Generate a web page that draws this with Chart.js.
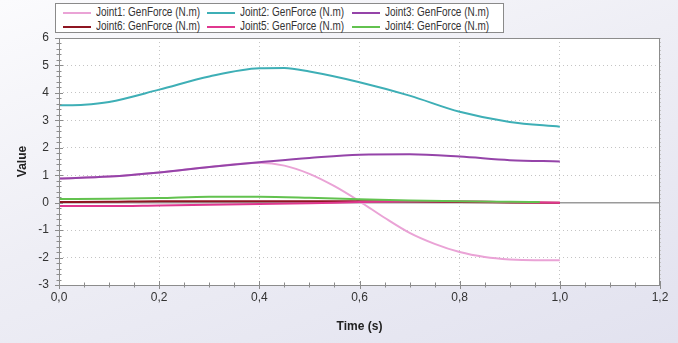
<!DOCTYPE html>
<html lang="en">
<head>
<meta charset="UTF-8">
<title>Joint GenForce</title>
<script src="https://cdn.jsdelivr.net/npm/chart.js"></script>
<style>
  html, body { margin: 0; padding: 0; }
  body {
    width: 678px; height: 343px; overflow: hidden; position: relative;
    background: linear-gradient(160deg, #fbfbfd 0%, #eeeef5 45%, #e2e2ef 100%);
    font-family: "Liberation Sans", Arial, sans-serif;
  }
  #wrap { position: absolute; left: 0; top: 0; width: 678px; height: 343px; }
  #grafico { display: block; }
  .legend {
    position: absolute; left: 55px; top: 3px; width: 449px; height: 30px;
    border: 1px solid #8a8a8a; background: #fff; box-sizing: border-box;
    font-family: "Liberation Sans", Arial, sans-serif;
    font-size: 12px; color: #333;
  }
  .item { position: absolute; height: 14px; line-height: 14px; white-space: nowrap; }
  .item i { display: inline-block; width: 28px; height: 2px; vertical-align: middle; margin-right: 5px; }
  .item span { display: inline-block; transform: scaleX(0.83); transform-origin: left center; }
</style>
</head>
<body>
<div id="wrap"><canvas id="grafico" width="678" height="343"></canvas></div>
<div class="legend" id="legenda"></div>
<script>
  // tempo (s) e valores (N.m)
  const tempo1 = [0, 0.1, 0.2, 0.3, 0.4, 0.45, 0.5, 0.55, 0.6, 0.65, 0.7, 0.75, 0.8, 0.85, 0.9, 0.95, 1.0];
  const joint1 = [0.88, 0.95, 1.1, 1.3, 1.45, 1.35, 1.05, 0.6, 0.05, -0.55, -1.1, -1.5, -1.8, -1.98, -2.07, -2.1, -2.1];

  const tempo2 = [0, 0.05, 0.1, 0.2, 0.3, 0.4, 0.45, 0.5, 0.6, 0.7, 0.8, 0.9, 1.0];
  const joint2 = [3.55, 3.57, 3.67, 4.12, 4.6, 4.9, 4.91, 4.78, 4.39, 3.9, 3.31, 2.94, 2.77];

  const tempo = [0, 0.1, 0.2, 0.3, 0.4, 0.5, 0.6, 0.7, 0.8, 0.9, 1.0];
  const joint3 = [0.88, 0.95, 1.1, 1.3, 1.47, 1.63, 1.75, 1.76, 1.68, 1.55, 1.5];
  const joint6 = [0.02, 0.03, 0.05, 0.05, 0.05, 0.05, 0.05, 0.04, 0.02, 0.01, 0.0];
  const joint5 = [-0.12, -0.12, -0.1, -0.08, -0.05, -0.02, 0.02, 0.05, 0.05, 0.02, 0.0];

  const tempo4 = [0, 0.1, 0.2, 0.3, 0.4, 0.5, 0.6, 0.7, 0.8, 0.9, 0.96];
  const joint4 = [0.13, 0.14, 0.17, 0.22, 0.22, 0.18, 0.12, 0.08, 0.05, 0.03, 0.02];

  const nomes = ['Joint1: GenForce (N.m)', 'Joint2: GenForce (N.m)', 'Joint3: GenForce (N.m)',
                 'Joint6: GenForce (N.m)', 'Joint5: GenForce (N.m)', 'Joint4: GenForce (N.m)'];
  const cores = ['#eaa3d6', '#3eafb6', '#9544a9', '#8e1521', '#e0378f', '#62c24f'];

  const xTicks = [0, 0.2, 0.4, 0.6, 0.8, 1.0, 1.2];
  const yTicks = [-3, -2, -1, 0, 1, 2, 3, 4, 5, 6];

  function pontos(xs, ys) { return xs.map((x, i) => ({ x: x, y: ys[i] })); }

  const series = [
    pontos(tempo1, joint1), pontos(tempo2, joint2), pontos(tempo, joint3),
    pontos(tempo, joint6), pontos(tempo, joint5), pontos(tempo4, joint4)
  ];

  // legenda em html (3 colunas)
  const leg = document.getElementById('legenda');
  const colX = [7, 151, 296];
  nomes.forEach((n, i) => {
    const d = document.createElement('div');
    d.className = 'item';
    d.style.left = colX[i % 3] + 'px';
    d.style.top = (i < 3 ? 1 : 15) + 'px';
    d.innerHTML = '<i style="background:' + cores[i] + '"></i><span>' + n + '</span>';
    leg.appendChild(d);
  });

  // fundo branco, borda e ticks menores
  const plotFrame = {
    id: 'plotFrame',
    beforeDraw(chart) {
      const a = chart.chartArea, c = chart.ctx;
      c.save();
      c.fillStyle = '#fff';
      c.fillRect(a.left, a.top, a.right - a.left, a.bottom - a.top);
      c.restore();
    },
    afterDatasetsDraw(chart) {
      const a = chart.chartArea, c = chart.ctx;
      const xs = chart.scales.x, ys = chart.scales.y;
      c.save();
      c.strokeStyle = '#8c8c8c';
      c.lineWidth = 1;
      c.strokeRect(a.left + 0.5, a.top + 0.5, a.right - a.left - 1, a.bottom - a.top);
      c.beginPath();
      for (let k = 0; k <= 24; k++) {
        const px = Math.round(xs.getPixelForValue(k * 0.05)) + 0.5;
        const len = k % 4 === 0 ? 4 : 2.5;
        c.moveTo(px, a.bottom - len); c.lineTo(px, a.bottom + len);
      }
      for (let k = 0; k <= 45; k++) {
        const py = Math.round(ys.getPixelForValue(-3 + k * 0.2)) + 0.5;
        const len = k % 5 === 0 ? 4 : 2.5;
        c.moveTo(a.left - len, py); c.lineTo(a.left + len, py);
      }
      c.stroke();
      c.restore();
    }
  };

  const ctx = document.getElementById('grafico');
  new Chart(ctx, {
    type: 'line',
    data: {
      datasets: series.map((s, i) => ({
        label: nomes[i],
        data: s,
        borderColor: cores[i],
        backgroundColor: cores[i],
        borderWidth: 2,
        pointRadius: 0,
        cubicInterpolationMode: 'monotone',
        order: i === 1 ? 0 : 6 - i
      }))
    },
    options: {
      responsive: false,
      animation: false,
      layout: { padding: { left: 10, top: 38, right: 18, bottom: 8 } },
      plugins: { legend: { display: false }, tooltip: { enabled: false } },
      scales: {
        x: {
          type: 'linear', min: 0, max: 1.2,
          afterBuildTicks: s => { s.ticks = xTicks.map(v => ({ value: v })); },
          afterFit: s => { s.height = 50; },
          ticks: {
            callback: v => v.toFixed(1).replace('.', ','),
            color: '#333', padding: 5, autoSkip: false, maxRotation: 0,
            font: { family: 'Liberation Sans', size: 12 }
          },
          grid: { color: '#c4c4c4', drawTicks: false },
          border: { display: false, dash: [1, 3] },
          title: {
            display: true, text: 'Time (s)', color: '#222',
            font: { family: 'Liberation Sans', size: 12, weight: 'bold' },
            padding: { top: 0, bottom: 1 }
          }
        },
        y: {
          min: -3, max: 6,
          afterBuildTicks: s => { s.ticks = yTicks.map(v => ({ value: v })); },
          afterFit: s => { s.width = 49; },
          ticks: {
            color: '#333', padding: 10, autoSkip: false,
            font: { family: 'Liberation Sans', size: 12 }
          },
          grid: {
            color: c => c.tick && c.tick.value === 0 ? '#9a9a9a' : '#c4c4c4',
            lineWidth: c => c.tick && c.tick.value === 0 ? 1.5 : 1,
            drawTicks: false
          },
          border: { display: false, dash: c => c.tick && c.tick.value === 0 ? [] : [1, 3] },
          title: {
            display: true, text: 'Value', color: '#222',
            font: { family: 'Liberation Sans', size: 12, weight: 'bold' },
            padding: { top: 5, bottom: 0 }
          }
        }
      }
    },
    plugins: [plotFrame]
  });
</script>
</body>
</html>
